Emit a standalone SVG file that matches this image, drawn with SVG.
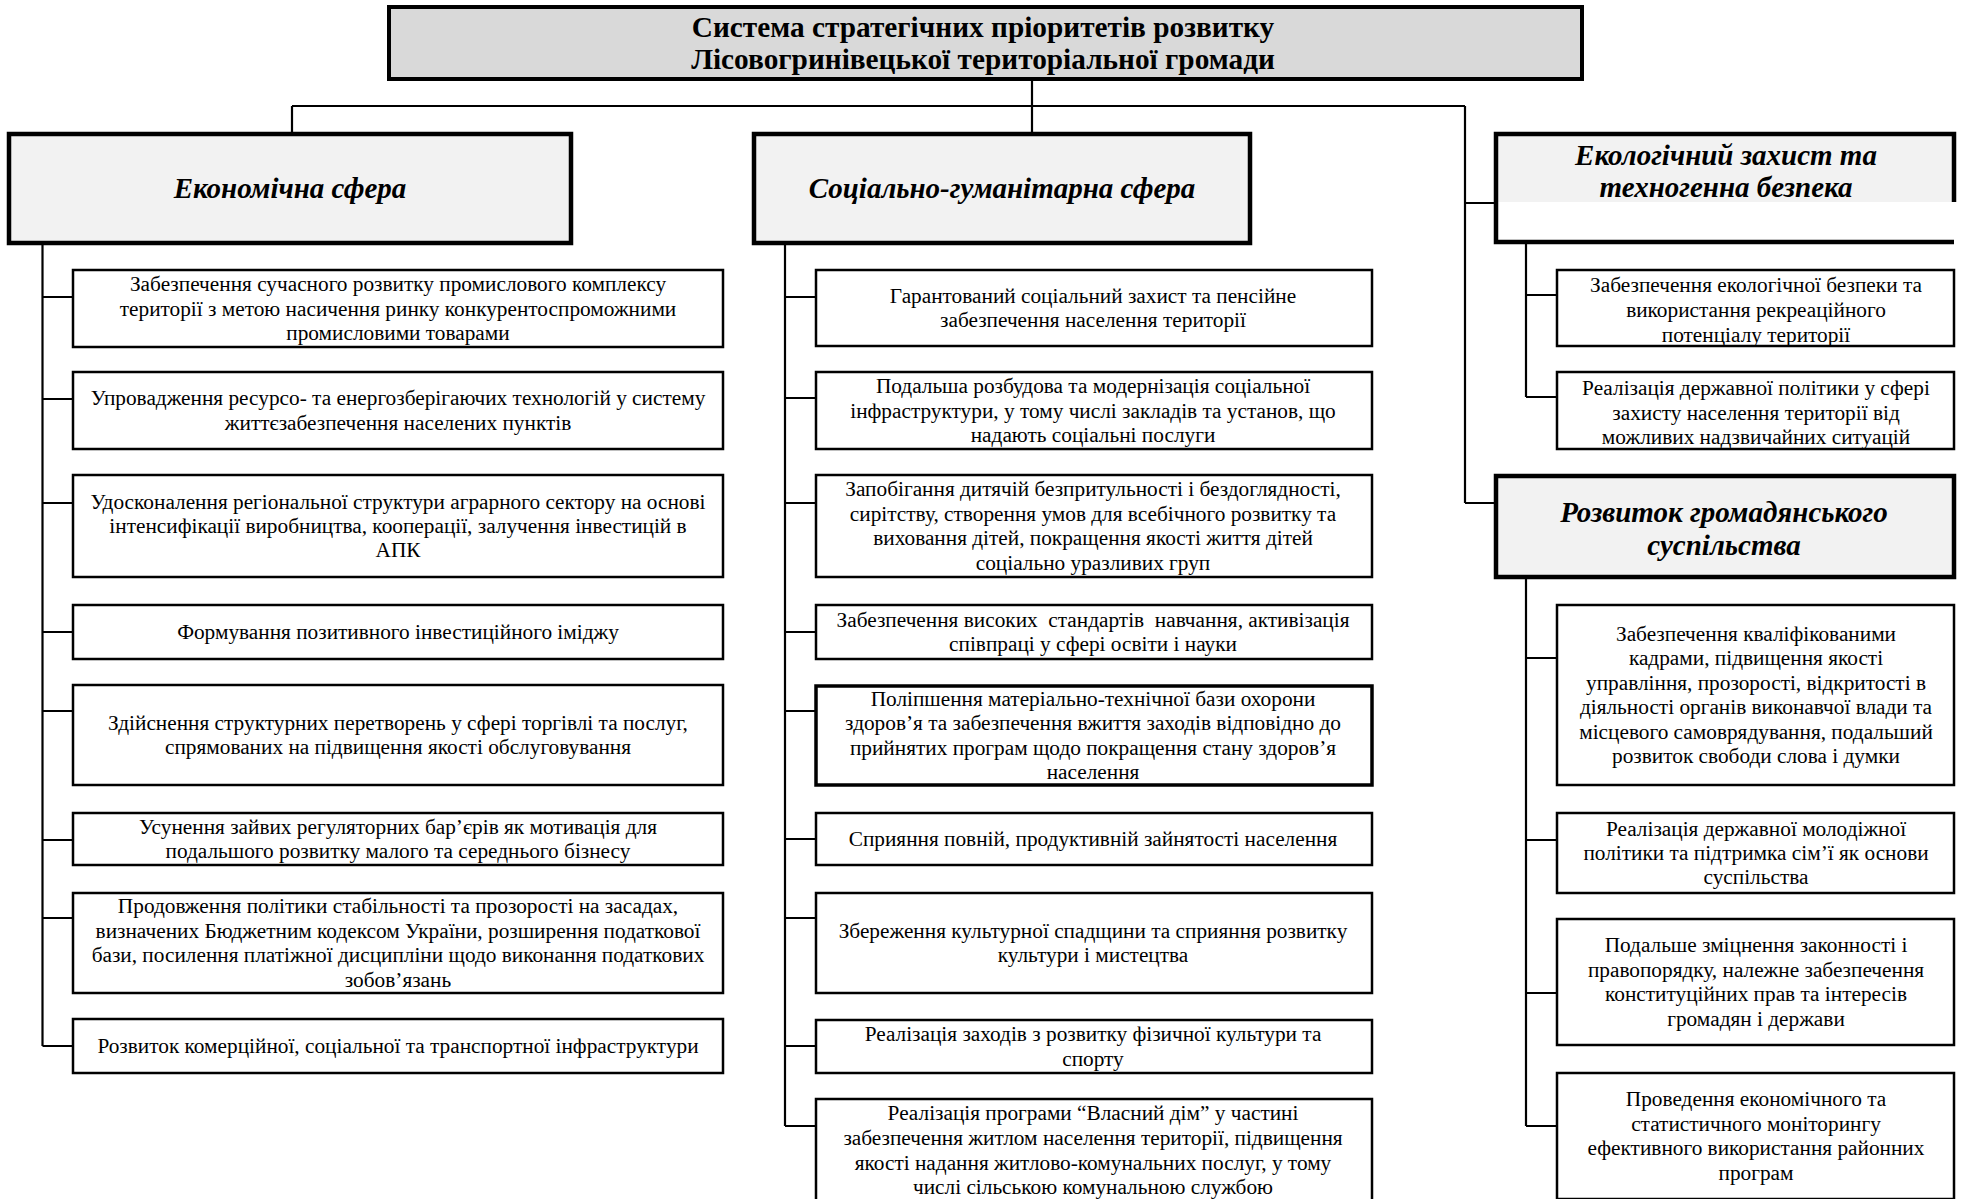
<svg xmlns="http://www.w3.org/2000/svg" width="1961" height="1199" viewBox="0 0 1961 1199">
<style>
.t{font-family:"Liberation Serif","Times New Roman",serif;font-size:21.3px;text-anchor:middle;fill:#000}
.h{font-family:"Liberation Serif","Times New Roman",serif;font-size:29px;font-weight:bold;font-style:italic;text-anchor:middle;fill:#000}
.ti{font-family:"Liberation Serif","Times New Roman",serif;font-size:29.3px;font-weight:bold;text-anchor:middle;fill:#000}
.box{fill:#fff;stroke:#000;stroke-width:2.5}
.boxb{fill:#fff;stroke:#000;stroke-width:3.5}
.hbox{fill:#f2f2f2;stroke:#000;stroke-width:4.5}
.conn{stroke:#000;stroke-width:2.2;fill:none}
</style>
<rect width="1961" height="1199" fill="#fff"/>
<g id="connectors">
<path class="conn" d="M1032 79V134M292 106H1465M292 106V134M1465 106V503M1465 203H1496M1465 503H1496"/>
<path class="conn" d="M42.5 243V1046M42.5 297H73M42.5 399H73M42.5 503H73M42.5 632H73M42.5 711H73M42.5 840H73M42.5 918H73M42.5 1046H73"/>
<path class="conn" d="M785 243V1126M785 297H816M785 398H816M785 503H816M785 632H816M785 711H816M785 839H816M785 918H816M785 1046H816M785 1126H816"/>
<path class="conn" d="M1526 243V397M1526 295H1557M1526 397H1557"/>
<path class="conn" d="M1526 577V1126M1526 658H1557M1526 840H1557M1526 993H1557M1526 1126H1557"/>
</g>
<g id="title">
<rect x="389" y="7" width="1193" height="72" fill="#d9d9d9" stroke="#000" stroke-width="4"/>
<text class="ti" x="983" y="37">Система стратегічних пріоритетів розвитку</text>
<text class="ti" x="983" y="69">Лісовогринівецької територіальної громади</text>
</g>
<g id="econ">
<rect class="hbox" x="9" y="134" width="562" height="109"/>
<text class="h" x="290" y="198">Економічна сфера</text>
</g>
<g id="social">
<rect class="hbox" x="754" y="134" width="496" height="109"/>
<text class="h" x="1002" y="198">Соціально-гуманітарна сфера</text>
</g>
<g id="eco">
<rect x="1496" y="134" width="458" height="68" fill="#f2f2f2"/>
<path d="M1954 202V134H1496V242H1954" fill="none" stroke="#000" stroke-width="4.5"/>
<text class="h" x="1726" y="165">Екологічний захист та</text>
<text class="h" x="1726" y="197">техногенна безпека</text>
</g>
<g id="civil">
<rect class="hbox" x="1496" y="476" width="458" height="101"/>
<text class="h" x="1724" y="522">Розвиток громадянського</text>
<text class="h" x="1724" y="555">суспільства</text>
</g>
<g id="e1"><rect class="box" x="73" y="270" width="650" height="77"/>
<text class="t" x="398" y="291">Забезпечення сучасного розвитку промислового комплексу</text>
<text class="t" x="398" y="315.5">території з метою насичення ринку конкурентоспроможними</text>
<text class="t" x="398" y="340">промисловими товарами</text></g>
<g id="e2"><rect class="box" x="73" y="372" width="650" height="77"/>
<text class="t" x="398" y="405.3">Упровадження ресурсо- та енергозберігаючих технологій у систему</text>
<text class="t" x="398" y="429.7">життєзабезпечення населених пунктів</text></g>
<g id="e3"><rect class="box" x="73" y="475" width="650" height="102"/>
<text class="t" x="398" y="508.6">Удосконалення регіональної структури аграрного сектору на основі</text>
<text class="t" x="398" y="533">інтенсифікації виробництва, кооперації, залучення інвестицій в</text>
<text class="t" x="398" y="557.4">АПК</text></g>
<g id="e4"><rect class="box" x="73" y="605" width="650" height="54"/>
<text class="t" x="398" y="639">Формування позитивного інвестиційного іміджу</text></g>
<g id="e5"><rect class="box" x="73" y="685" width="650" height="100"/>
<text class="t" x="398" y="729.8">Здійснення структурних перетворень у сфері торгівлі та послуг,</text>
<text class="t" x="398" y="754.2">спрямованих на підвищення якості обслуговування</text></g>
<g id="e6"><rect class="box" x="73" y="813" width="650" height="52"/>
<text class="t" x="398" y="833.8">Усунення зайвих регуляторних бар’єрів як мотивація для</text>
<text class="t" x="398" y="858.2">подальшого розвитку малого та середнього бізнесу</text></g>
<g id="e7"><rect class="box" x="73" y="893" width="650" height="100"/>
<text class="t" x="398" y="913.4">Продовження політики стабільності та прозорості на засадах,</text>
<text class="t" x="398" y="937.8">визначених Бюджетним кодексом України, розширення податкової</text>
<text class="t" x="398" y="962.2">бази, посилення платіжної дисципліни щодо виконання податкових</text>
<text class="t" x="398" y="986.6">зобов’язань</text></g>
<g id="e8"><rect class="box" x="73" y="1019" width="650" height="54"/>
<text class="t" x="398" y="1053">Розвиток комерційної, соціальної та транспортної інфраструктури</text></g>
<g id="s1"><rect class="box" x="816" y="270" width="556" height="76"/>
<text class="t" x="1093" y="302.8">Гарантований соціальний захист та пенсійне</text>
<text class="t" x="1093" y="327.2">забезпечення населення території</text></g>
<g id="s2"><rect class="box" x="816" y="372" width="556" height="77"/>
<text class="t" x="1093" y="393.1">Подальша розбудова та модернізація соціальної</text>
<text class="t" x="1093" y="417.5">інфраструктури, у тому числі закладів та установ, що</text>
<text class="t" x="1093" y="441.9">надають соціальні послуги</text></g>
<g id="s3"><rect class="box" x="816" y="475" width="556" height="102"/>
<text class="t" x="1093" y="496.4">Запобігання дитячій безпритульності і бездоглядності,</text>
<text class="t" x="1093" y="520.8">сирітству, створення умов для всебічного розвитку та</text>
<text class="t" x="1093" y="545.2">виховання дітей, покращення якості життя дітей</text>
<text class="t" x="1093" y="569.6">соціально уразливих груп</text></g>
<g id="s4"><rect class="box" x="816" y="605" width="556" height="54"/>
<text class="t" x="1093" y="626.8" style="white-space:pre">Забезпечення високих  стандартів  навчання, активізація</text>
<text class="t" x="1093" y="651.2">співпраці у сфері освіти і науки</text></g>
<g id="s5"><rect class="boxb" x="816" y="686" width="556" height="99"/>
<text class="t" x="1093" y="705.9">Поліпшення матеріально-технічної бази охорони</text>
<text class="t" x="1093" y="730.3">здоров’я та забезпечення вжиття заходів відповідно до</text>
<text class="t" x="1093" y="754.7">прийнятих програм щодо покращення стану здоров’я</text>
<text class="t" x="1093" y="779.1">населення</text></g>
<g id="s6"><rect class="box" x="816" y="813" width="556" height="52"/>
<text class="t" x="1093" y="846">Сприяння повній, продуктивній зайнятості населення</text></g>
<g id="s7"><rect class="box" x="816" y="893" width="556" height="100"/>
<text class="t" x="1093" y="937.8">Збереження культурної спадщини та сприяння розвитку</text>
<text class="t" x="1093" y="962.2">культури і мистецтва</text></g>
<g id="s8"><rect class="box" x="816" y="1020" width="556" height="53"/>
<text class="t" x="1093" y="1041.3">Реалізація заходів з розвитку фізичної культури та</text>
<text class="t" x="1093" y="1065.7">спорту</text></g>
<g id="s9"><rect class="box" x="816" y="1099" width="556" height="103"/>
<text class="t" x="1093" y="1120">Реалізація програми “Власний дім” у частині</text>
<text class="t" x="1093" y="1145">забезпечення житлом населення території, підвищення</text>
<text class="t" x="1093" y="1170">якості надання житлово-комунальних послуг, у тому</text>
<text class="t" x="1093" y="1194">числі сільською комунальною службою</text></g>
<g id="k1"><rect class="box" x="1557" y="270" width="397" height="76"/>
<text class="t" x="1756" y="292">Забезпечення екологічної безпеки та</text>
<text class="t" x="1756" y="317">використання рекреаційного</text>
<text class="t" x="1756" y="342">потенціалу території</text></g>
<g id="k2"><rect class="box" x="1557" y="372" width="397" height="77"/>
<text class="t" x="1756" y="395">Реалізація державної політики у сфері</text>
<text class="t" x="1756" y="420">захисту населення території від</text>
<text class="t" x="1756" y="444">можливих надзвичайних ситуацій</text></g>
<g id="r1"><rect class="box" x="1557" y="605" width="397" height="180"/>
<text class="t" x="1756" y="641">Забезпечення кваліфікованими</text>
<text class="t" x="1756" y="665.4">кадрами, підвищення якості</text>
<text class="t" x="1756" y="689.8">управління, прозорості, відкритості в</text>
<text class="t" x="1756" y="714.2">діяльності органів виконавчої влади та</text>
<text class="t" x="1756" y="738.6">місцевого самоврядування, подальший</text>
<text class="t" x="1756" y="763">розвиток свободи слова і думки</text></g>
<g id="r2"><rect class="box" x="1557" y="813" width="397" height="80"/>
<text class="t" x="1756" y="835.6">Реалізація державної молодіжної</text>
<text class="t" x="1756" y="860">політики та підтримка сім’ї як основи</text>
<text class="t" x="1756" y="884.4">суспільства</text></g>
<g id="r3"><rect class="box" x="1557" y="919" width="397" height="126"/>
<text class="t" x="1756" y="952.4">Подальше зміцнення законності і</text>
<text class="t" x="1756" y="976.8">правопорядку, належне забезпечення</text>
<text class="t" x="1756" y="1001.2">конституційних прав та інтересів</text>
<text class="t" x="1756" y="1025.6">громадян і держави</text></g>
<g id="r4"><rect class="box" x="1557" y="1073" width="397" height="126"/>
<text class="t" x="1756" y="1106.4">Проведення економічного та</text>
<text class="t" x="1756" y="1130.8">статистичного моніторингу</text>
<text class="t" x="1756" y="1155.2">ефективного використання районних</text>
<text class="t" x="1756" y="1179.6">програм</text></g>
</svg>
